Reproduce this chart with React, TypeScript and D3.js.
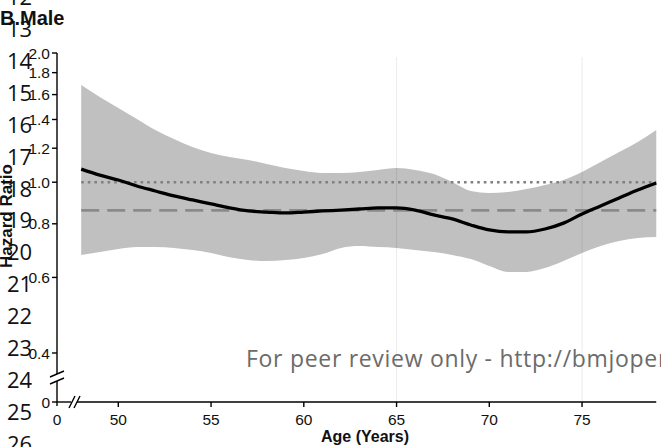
import React from "react";
import * as d3 from "d3";

// Age grid (years) for the fitted hazard-ratio curve
const ages = [48, 49, 50, 51, 52, 53, 54, 55, 56, 57, 58, 59, 60, 61, 62, 63, 64, 65, 66, 67, 68, 69, 70, 71, 72, 73, 74, 75, 76, 77, 78, 79];
// Point estimate of the hazard ratio
const hazardRatio = [1.073, 1.039, 1.012, 0.98, 0.954, 0.929, 0.909, 0.89, 0.871, 0.857, 0.852, 0.848, 0.852, 0.857, 0.861, 0.866, 0.871, 0.871, 0.861, 0.839, 0.821, 0.795, 0.774, 0.766, 0.766, 0.778, 0.803, 0.843, 0.88, 0.919, 0.959, 0.996];
// 95% confidence band
const upperCI = [1.684, 1.58, 1.489, 1.404, 1.323, 1.261, 1.208, 1.17, 1.145, 1.127, 1.103, 1.079, 1.062, 1.051, 1.051, 1.056, 1.068, 1.079, 1.068, 1.045, 1.001, 0.954, 0.944, 0.949, 0.964, 0.985, 1.012, 1.056, 1.114, 1.176, 1.241, 1.323];
const lowerCI = [0.677, 0.688, 0.699, 0.706, 0.706, 0.703, 0.695, 0.684, 0.669, 0.659, 0.655, 0.659, 0.666, 0.68, 0.703, 0.71, 0.706, 0.703, 0.695, 0.688, 0.677, 0.662, 0.638, 0.618, 0.618, 0.631, 0.655, 0.684, 0.71, 0.729, 0.741, 0.745];

const referenceHR = 1.0;
const overallHR = 0.86;

const xTicks = [50, 55, 60, 65, 70, 75];
const yTicks = [0.4, 0.6, 0.8, 1.0, 1.2, 1.4, 1.6, 1.8, 2.0];
const guideAges = [65, 75];
const lineNumbers = [12, 13, 14, 15, 16, 17, 18, 19, 20, 21, 22, 23, 24, 25, 26];

const W = 661;
const H = 447;
const axisX = 57;
const axisY = 402;

export default function App() {
  const x = d3.scaleLinear().domain([50, 79]).range([118.3, 656.25]);
  const y = d3.scaleLog().domain([0.4, 2.0]).range([353, 53]);

  const rows = ages.map((a, i) => ({ a, hr: hazardRatio[i], lo: lowerCI[i], hi: upperCI[i] }));

  const band = d3
    .area<any>()
    .x((d) => x(d.a))
    .y0((d) => y(d.lo))
    .y1((d) => y(d.hi))
    .curve(d3.curveMonotoneX)(rows) as string;

  const curve = d3
    .line<any>()
    .x((d) => x(d.a))
    .y((d) => y(d.hr))
    .curve(d3.curveMonotoneX)(rows) as string;

  const x0 = x(ages[0]);
  const x1 = x(ages[ages.length - 1]);
  const tickFont = "'Liberation Sans', Arial, Helvetica, sans-serif";

  return (
    <svg
      width={W}
      height={H}
      viewBox={`0 0 ${W} ${H}`}
      style={{ position: "absolute", left: 0, top: 0, background: "#fff", overflow: "hidden" }}
    >
      {/* confidence band */}
      <path d={band} fill="#c0c0c0" stroke="none" />

      {/* faint vertical guides */}
      {guideAges.map((g) => (
        <line key={g} x1={x(g)} x2={x(g)} y1={57} y2={axisY} stroke="#000" strokeOpacity={0.08} strokeWidth={1} />
      ))}

      {/* reference lines */}
      <line x1={x0} x2={x1} y1={y(referenceHR)} y2={y(referenceHR)} stroke="#808080" strokeWidth={2.6} strokeDasharray="2.6,4" />
      <line x1={x0} x2={x1} y1={y(overallHR)} y2={y(overallHR)} stroke="#8a8a8a" strokeWidth={2.8} strokeDasharray="18,8" />

      {/* hazard ratio curve */}
      <path d={curve} fill="none" stroke="#000" strokeWidth={3.3} strokeLinejoin="round" />

      {/* y axis with break */}
      <g stroke="#000" strokeWidth={1.4} fill="none">
        <line x1={axisX} x2={axisX} y1={y(2.0)} y2={374} />
        <line x1={axisX} x2={axisX} y1={381} y2={axisY + 4} />
        <line x1={50} x2={64} y1={377} y2={371} />
        <line x1={50} x2={64} y1={384} y2={378} />
        {yTicks.map((t) => (
          <line key={t} x1={axisX - 5} x2={axisX} y1={y(t)} y2={y(t)} />
        ))}
        <line x1={axisX - 5} x2={axisX} y1={axisY} y2={axisY} />
      </g>
      {/* x axis with break */}
      <g stroke="#000" strokeWidth={1.4} fill="none">
        <line x1={axisX} x2={71} y1={axisY} y2={axisY} />
        <line x1={77} x2={x1} y1={axisY} y2={axisY} />
        <line x1={69} x2={75} y1={408} y2={396} />
        <line x1={74} x2={80} y1={408} y2={396} />
        {xTicks.map((t) => (
          <line key={t} x1={x(t)} x2={x(t)} y1={axisY} y2={axisY + 5} />
        ))}
      </g>

      {/* tick labels */}
      <g fontFamily={tickFont} fontSize={15.5} fill="#111">
        {yTicks.map((t) => (
          <text key={t} x={axisX - 7} y={y(t)} dy="0.36em" textAnchor="end">
            {t.toFixed(1)}
          </text>
        ))}
        <text x={axisX - 7} y={axisY} dy="0.36em" textAnchor="end">0</text>
        {xTicks.map((t) => (
          <text key={t} x={x(t)} y={425} textAnchor="middle">
            {t}
          </text>
        ))}
        <text x={axisX} y={425} textAnchor="middle">0</text>
      </g>

      {/* axis titles */}
      <text x={365} y={442} textAnchor="middle" fontFamily={tickFont} fontWeight="bold" fontSize={16} fill="#111">
        Age (Years)
      </text>
      <text
        transform="translate(12,216) rotate(-90)"
        textAnchor="middle"
        fontFamily={tickFont}
        fontWeight="bold"
        fontSize={17}
        fill="#111"
      >
        Hazard Ratio
      </text>
      <text x={0} y={25} fontFamily={tickFont} fontWeight="bold" fontSize={20} fill="#111">
        B.Male
      </text>

      {/* manuscript line numbers */}
      <g fontFamily="'Open Sans', sans-serif" fontSize={22} fill="#111">
        {lineNumbers.map((n) => (
          <text key={n} x={7} y={37 + 31.9 * (n - 13)}>
            {n}
          </text>
        ))}
      </g>

      {/* review watermark */}
      <text x={246} y={367} fontFamily="'Open Sans', sans-serif" fontSize={23} letterSpacing={0.7} fill="#6b6b6b">
        For peer review only - http://bmjopen.bmj.com/site/about/guidelines.xhtml
      </text>
    </svg>
  );
}
